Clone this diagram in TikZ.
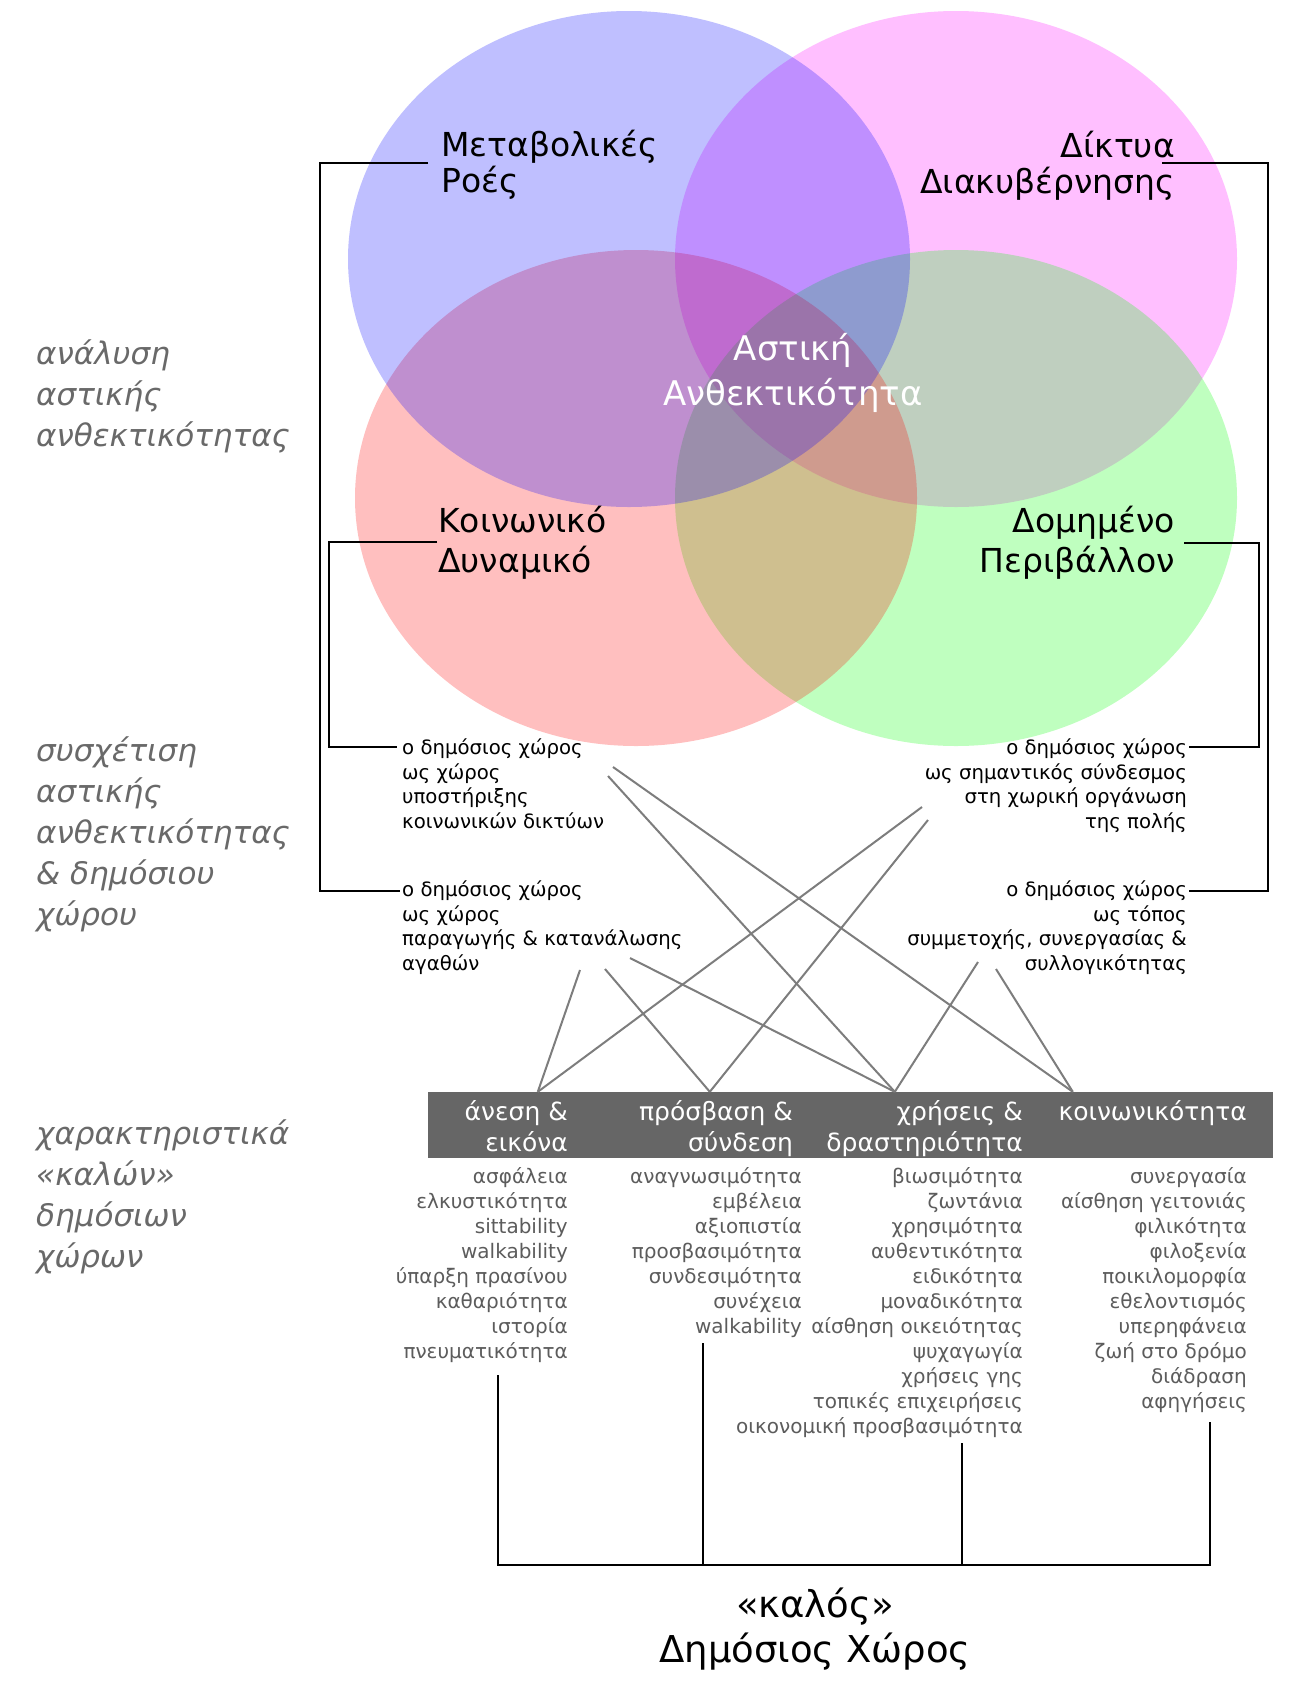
\documentclass[tikz,border=0pt]{standalone}
\usepackage{fontspec}
\setmainfont{DejaVu Sans}
\usetikzlibrary{positioning}
\definecolor{bargray}{RGB}{102,102,102}
\definecolor{txtgray}{RGB}{92,92,92}
\definecolor{sidegray}{RGB}{105,105,105}
\definecolor{linegray}{RGB}{125,125,125}
\definecolor{fblue}{RGB}{0,0,255}
\definecolor{fpink}{RGB}{255,0,255}
\definecolor{fred}{RGB}{255,0,0}
\definecolor{fgreen}{RGB}{0,255,0}

\begin{document}
\begin{tikzpicture}[
    x=1pt,y=-1pt,
  field/.style={fill opacity=0.25},
  big/.style={inner sep=0pt,font=\fontsize{33}{36}\selectfont},
  mid/.style={inner sep=0pt,font=\fontsize{19.7}{24.5}\selectfont},
  side/.style={inner sep=0pt,text=sidegray,align=left,anchor=base west,
    font=\fontsize{31}{41}\selectfont\itshape},
  head/.style={inner sep=0pt,text=white,align=right,anchor=base east,
    font=\fontsize{25}{31}\selectfont},
  item/.style={inner sep=0pt,text=txtgray,align=right,anchor=base east,
    font=\fontsize{20}{25}\selectfont},
  bracket/.style={draw=black,line width=2.2pt},
  link/.style={draw=linegray,line width=2pt},
]
  \useasboundingbox (0,0) rectangle (1304,1687);

  \fill[fpink,field]  (956,259) ellipse [x radius=281,y radius=248];
  \fill[fgreen,field] (956,498) ellipse [x radius=281,y radius=248];
  \fill[fred,field]   (636,498) ellipse [x radius=281,y radius=248];
  \fill[fblue,field]  (629,259) ellipse [x radius=281,y radius=248];

  \node[big,align=left,anchor=base west] (met) at (441,192) {Μεταβολικές\\Ροές};
  \node[big,align=right,anchor=base east] (dik) at (1175,193) {Δίκτυα\\Διακυβέρνησης};
  \node[big,align=left,anchor=base west,font=\fontsize{33}{40}\selectfont] (koi) at (438,572) {Κοινωνικό\\Δυναμικό};
  \node[big,align=right,anchor=base east,font=\fontsize{33}{40}\selectfont] (dom) at (1175,572) {Δομημένο\\Περιβάλλον};
  \node[big,align=center,anchor=base,text=white,font=\fontsize{34}{45}\selectfont] (ant) at (793,405) {Αστική\\Ανθεκτικότητα};

  \node[mid,align=left,anchor=base west] (s1) at (402,828)
    {ο δημόσιος χώρος\\ως χώρος\\υποστήριξης\\κοινωνικών δικτύων};
  \node[mid,align=left,anchor=base west] (s2) at (402,970)
    {ο δημόσιος χώρος\\ως χώρος\\παραγωγής \& κατανάλωσης\\αγαθών};
  \node[mid,align=right,anchor=base east] (s3) at (1187,828)
    {ο δημόσιος χώρος\\ως σημαντικός σύνδεσμος\\στη χωρική οργάνωση\\της πολής};
  \node[mid,align=right,anchor=base east] (s4) at (1187,970)
    {ο δημόσιος χώρος\\ως τόπος\\συμμετοχής, συνεργασίας \&\\συλλογικότητας};

  \node[side] (a1) at (36,446) {ανάλυση\\αστικής\\ανθεκτικότητας};
  \node[side] (a2) at (36,925) {συσχέτιση\\αστικής\\ανθεκτικότητας\\\& δημόσιου\\χώρου};
  \node[side] (a3) at (36,1267) {χαρακτηριστικά\\«καλών»\\δημόσιων\\χώρων};

  \node[fill=bargray,inner sep=0pt,minimum width=845,minimum height=66] (bar) at (850.5,1125) {};

  \node[head] (h1) at (568,1151) {άνεση \&\\εικόνα};
  \node[head] (h2) at (793,1151) {πρόσβαση \&\\σύνδεση};
  \node[head] (h3) at (1023,1151) {χρήσεις \&\\δραστηριότητα};
  \node[head] (h4) at (1247,1120) {κοινωνικότητα};

  \node[item] (i1) at (568,1358)
    {ασφάλεια\\ελκυστικότητα\\sittability\\walkability\\ύπαρξη πρασίνου\\καθαριότητα\\ιστορία\\πνευματικότητα};
  \node[item] (i2) at (802,1333)
    {αναγνωσιμότητα\\εμβέλεια\\αξιοπιστία\\προσβασιμότητα\\συνδεσιμότητα\\συνέχεια\\walkability};
  \node[item] (i3) at (1023,1433)
    {βιωσιμότητα\\ζωντάνια\\χρησιμότητα\\αυθεντικότητα\\ειδικότητα\\μοναδικότητα\\αίσθηση οικειότητας\\ψυχαγωγία\\χρήσεις γης\\τοπικές επιχειρήσεις\\οικονομική προσβασιμότητα};
  \node[item] (i4) at (1247,1408)
    {συνεργασία\\αίσθηση γειτονιάς\\φιλικότητα\\φιλοξενία\\ποικιλομορφία\\εθελοντισμός\\υπερηφάνεια\\ζωή στο δρόμο\\διάδραση\\αφηγήσεις};

  \node[big,align=center,anchor=base,font=\fontsize{37}{45}\selectfont] (good) at (815,1662) {«καλός»\\Δημόσιος Χώρος};

  \coordinate (m0) at (428,163);
  \coordinate (m1) at (400,891);
  \coordinate (k0) at (437,542);
  \coordinate (k1) at (397,747);
  \coordinate (d0) at (1162,163);
  \coordinate (d1) at (1189,891);
  \coordinate (o0) at (1184,543);
  \coordinate (o1) at (1189,747);

  \draw[bracket] (m0) -- (320,163) |- (m1);
  \draw[bracket] (k0) -- (329,542) |- (k1);
  \draw[bracket] (d0) -- (1268,163) |- (d1);
  \draw[bracket] (o0) -- (1259,543) |- (o1);

  \coordinate (p1) at (613,767);
  \coordinate (p2) at (608,776);
  \coordinate (p3) at (922,807);
  \coordinate (p4) at (928,820);
  \coordinate (p5) at (580,970);
  \coordinate (p6) at (605,969);
  \coordinate (p7) at (630,958);
  \coordinate (p8) at (978,962);
  \coordinate (p9) at (996,969);
  \coordinate (q1) at ([xshift=110pt]bar.north west);
  \coordinate (q2) at ([xshift=282pt]bar.north west);
  \coordinate (q3) at ([xshift=467pt]bar.north west);
  \coordinate (q4) at ([xshift=645pt]bar.north west);

  \draw[link] (p1) -- (q4);
  \draw[link] (p2) -- (q3);
  \draw[link] (p3) -- (q1);
  \draw[link] (p4) -- (q2);
  \draw[link] (p5) -- (q1);
  \draw[link] (p6) -- (q2);
  \draw[link] (p7) -- (q3);
  \draw[link] (p8) -- (q3);
  \draw[link] (p9) -- (q4);

  \coordinate (c1) at (498,1375);
  \coordinate (c2) at (703,1343);
  \coordinate (c3) at (962,1443);
  \coordinate (c4) at (1210,1422);
  \coordinate (base) at (815,1565);

  \draw[bracket,line width=2.6pt] (c1) |- (base) -| (c4);
  \draw[bracket,line width=2.6pt] (c2) -- (c2 |- base);
  \draw[bracket,line width=2.6pt] (c3) -- (c3 |- base);
\end{tikzpicture}
\end{document}
